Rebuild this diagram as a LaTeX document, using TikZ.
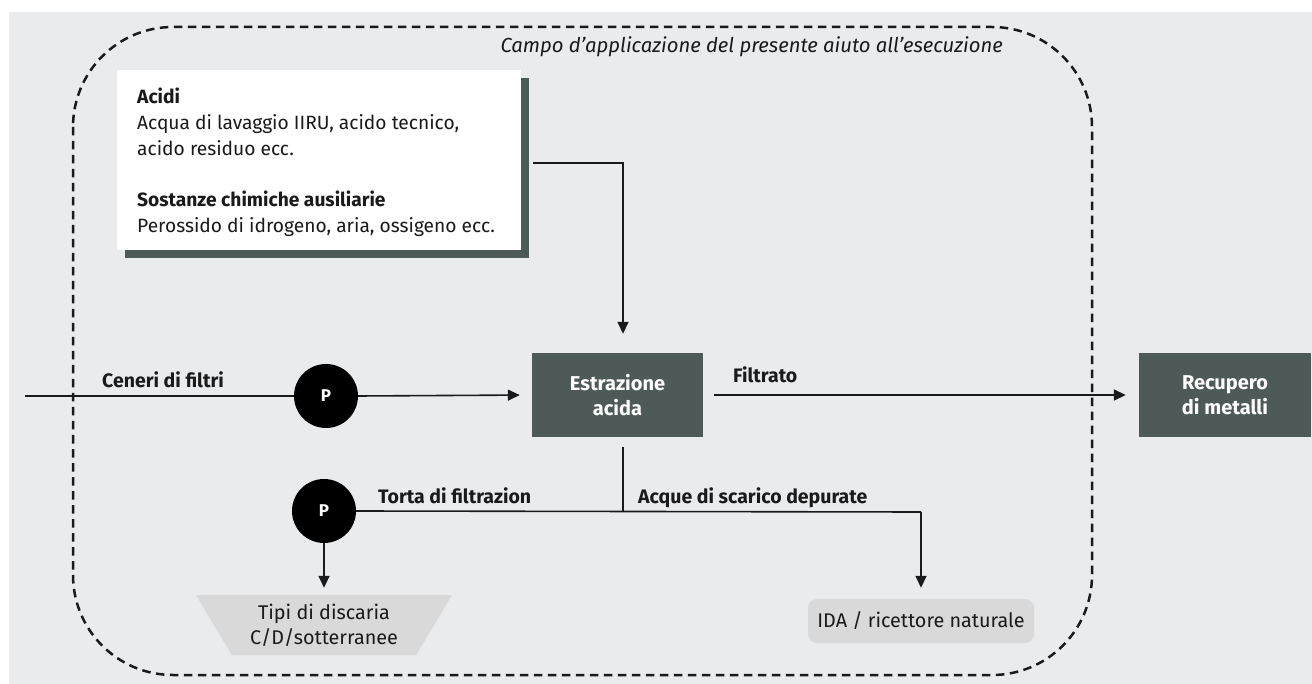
\documentclass[tikz,border=0pt]{standalone}
\usepackage{fontspec}
\setmainfont{Fira Sans}
\usetikzlibrary{arrows.meta,shapes.geometric,shadows}
\definecolor{bg}{HTML}{EAEBED}
\definecolor{dark}{HTML}{4E5A57}
\definecolor{lgray}{HTML}{D9D9D9}
\definecolor{ink}{HTML}{1A1A1A}
\begin{document}
\begin{tikzpicture}[x=1pt,y=-1pt,
  conn/.style={draw=ink,line width=1.6pt},
  arr/.style={conn,-{Triangle[length=12pt,width=11pt]}},
  darkbox/.style={fill=dark,text=white,font=\bfseries\fontsize{20}{25}\selectfont,align=center,minimum width=171pt,minimum height=84pt,inner sep=0pt},
  pump/.style={circle,fill=black,text=white,font=\bfseries\fontsize{17}{18}\selectfont,minimum size=64pt,inner sep=0pt},
  lbl/.style={anchor=base west,text=ink,font=\bfseries\fontsize{19.5}{22}\selectfont,inner sep=0pt},
  sink/.style={fill=lgray,text=ink,font=\fontsize{19.8}{25}\selectfont,align=center,inner sep=0pt}
]
\useasboundingbox (0,0) rectangle (1312,684);
\fill[bg] (9,12) rectangle (1312,684);
\draw[ink,line width=2.5pt,dash pattern=on 8.5pt off 5.5pt,rounded corners=100pt] (73,27) rectangle (1092,675);
\node[anchor=base east,text=ink,inner sep=0pt,font=\itshape\fontsize{20.3}{22}\selectfont] (title) at (1003,53) {Campo d’applicazione del presente aiuto all’esecuzione};
% chemicals box
\node[fill=white,minimum width=404pt,minimum height=180pt,anchor=north west,inner sep=0pt,
  drop shadow={shadow xshift=8pt,shadow yshift=-8pt,fill=dark,opacity=1}] (acid) at (117,70) {};
\node[anchor=north west,align=left,text=ink,inner sep=0pt,font=\fontsize{19.2}{25.8}\selectfont] (acidtxt) at (137,88)
  {{\bfseries Acidi}\\Acqua di lavaggio IIRU, acido tecnico,\\acido residuo ecc.\\[25.8pt]{\bfseries Sostanze chimiche ausiliarie}\\Perossido di idrogeno, aria, ossigeno ecc.};
% process boxes
\node[darkbox] (estr) at (617.5,395) {Estrazione\\acida};
\node[darkbox,minimum width=172pt] (rec) at (1225,395) {Recupero\\di metalli};
\node[pump] (p1) at (326,396) {P};
\node[pump] (p2) at (324,511) {P};
\node[sink,trapezium,trapezium stretches=true,shape border rotate=180,trapezium left angle=56,trapezium right angle=56,minimum width=256pt,minimum height=60pt] (disc) at (324,625) {Tipi di discaria\\C/D/sotterranee};
\node[sink,rounded corners=9pt,minimum width=226pt,minimum height=44pt] (ida) at (921,621) {IDA / ricettore naturale};
% connectors
\coordinate (in) at (25,396);
\coordinate (j) at (623,512);
\coordinate (k) at (921,512);
\draw[conn] (in) -- (p1.west);
\draw[arr,shorten >=12pt] (p1.east) -- (estr.west);
\draw[arr,shorten >=19pt] ([xshift=12pt,yshift=-3pt]acid.east) -| ([xshift=5.5pt]estr.north);
\draw[arr,shorten <=11pt,shorten >=13pt] (estr.east) -- (rec.west);
\draw[conn,shorten <=10pt] ([xshift=5.5pt]estr.south) -- (j);
\draw[conn] (p2.east) -- (k);
\draw[arr,shorten >=11pt] (k) -- (ida.north);
\draw[arr,shorten >=7pt] (p2.south) -- (disc.north);
% labels
\node[lbl] (l1) at (102,388) {Ceneri di filtri};
\node[lbl] (l2) at (733,383) {Filtrato};
\node[lbl] (l3) at (378,503) {Torta di filtrazion};
\node[lbl] (l4) at (638,503) {Acque di scarico depurate};
\end{tikzpicture}
\end{document}
